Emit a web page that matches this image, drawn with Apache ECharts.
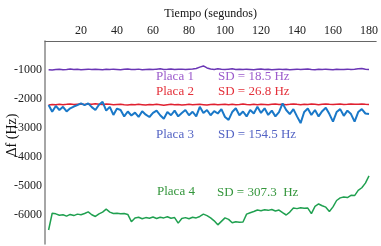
<!DOCTYPE html>
<html>
<head>
<meta charset="utf-8">
<script src="https://cdn.jsdelivr.net/npm/echarts@6/dist/echarts.min.js"></script>
<style>
  html, body { margin: 0; padding: 0; background: #fff; }
  #chart { width: 381px; height: 246px; }
</style>
</head>
<body>
<div id="chart"></div>
<script>
// tiempo (s)
const tiempo = [
  2, 4, 6, 8, 10, 12, 14, 16, 18, 20,
  22, 24, 26, 28, 30, 32, 34, 36, 38, 40,
  42, 44, 46, 48, 50, 52, 54, 56, 58, 60,
  62, 64, 66, 68, 70, 72, 74, 76, 78, 80,
  82, 84, 86, 88, 90, 92, 94, 96, 98, 100,
  102, 104, 106, 108, 110, 112, 114, 116, 118, 120,
  122, 124, 126, 128, 130, 132, 134, 136, 138, 140,
  142, 144, 146, 148, 150, 152, 154, 156, 158, 160,
  162, 164, 166, 168, 170, 172, 174, 176, 178, 180
];
// Δf (Hz)
const placa1 = [
  -990, -1000, -985, -975, -990, -980, -965, -985, -975, -990,
  -980, -970, -985, -975, -980, -990, -975, -985, -970, -980,
  -990, -975, -965, -980, -985, -970, -990, -980, -975, -985,
  -970, -960, -980, -975, -965, -985, -975, -970, -985, -975,
  -965, -950, -900, -860, -930, -965, -980, -960, -975, -985,
  -970, -960, -980, -975, -985, -970, -980, -990, -975, -965,
  -980, -975, -990, -980, -970, -985, -975, -990, -980, -970,
  -985, -975, -965, -980, -990, -975, -985, -970, -980, -990,
  -975, -985, -980, -970, -985, -975, -960, -945, -975, -985
];
const placa2 = [
  -2210, -2190, -2200, -2180, -2195, -2185, -2170, -2190, -2180, -2175,
  -2190, -2170, -2185, -2165, -2180, -2190, -2175, -2185, -2200, -2190,
  -2180, -2195, -2205, -2190, -2200, -2185, -2195, -2210, -2190, -2200,
  -2185, -2200, -2215, -2195, -2185, -2200, -2190, -2205, -2195, -2185,
  -2200, -2190, -2180, -2195, -2210, -2190, -2185, -2200, -2190, -2180,
  -2195, -2185, -2200, -2190, -2175, -2190, -2200, -2185, -2195, -2180,
  -2190, -2200, -2185, -2175, -2190, -2180, -2195, -2185, -2170, -2185,
  -2195, -2180, -2190, -2175, -2185, -2195, -2180, -2170, -2185, -2190,
  -2180, -2175, -2190, -2185, -2170, -2185, -2180, -2175, -2185, -2190
];
const placa3 = [
  -2207, -2440, -2240, -2380, -2270, -2430, -2320, -2260, -2210, -2150,
  -2210, -2150, -2280, -2380, -2200, -2100, -2400, -2270, -2550, -2330,
  -2380, -2600, -2430, -2570, -2470, -2620, -2420, -2540, -2620, -2480,
  -2400, -2560, -2680, -2450, -2560, -2400, -2600, -2480, -2380, -2560,
  -2440, -2600, -2270, -2480, -2380, -2560, -2420, -2500, -2350, -2620,
  -2720, -2450, -2320, -2560, -2430, -2600, -2380, -2500, -2270, -2480,
  -2320, -2550, -2400, -2600, -2450, -2150, -2380, -2520, -2350, -2600,
  -2830, -2450, -2330, -2550, -2380, -2600, -2420, -2300, -2520, -2780,
  -2450, -2350, -2580, -2400, -2520, -2780, -2450, -2350, -2500, -2520
];
const placa4 = [
  -6517, -5940, -5960, -6010, -5990, -6040, -5980, -6020, -5970, -5990,
  -5950, -5890, -5990, -6050, -5960, -5900, -5800, -5900, -5950, -5940,
  -5960, -5950, -5980, -6230, -6100, -6080, -6130, -6090, -6110, -6070,
  -6120, -6080, -6100, -6060, -6110, -6090, -6280, -6120, -6090, -6130,
  -6080, -6100, -6050, -5970, -6020, -6100, -6200, -6340, -6220, -6100,
  -6150, -6270, -6230, -6250, -6240, -5970, -5920, -5880, -5830, -5850,
  -5820, -5840, -5810, -5860, -5830, -5920, -6000, -5900, -5760, -5780,
  -5750, -5770, -5760, -5950, -5700, -5620, -5680, -5730, -5880, -5720,
  -5500, -5410, -5380, -5400, -5320, -5330, -5150, -5060, -4900, -4650
];
const xTicks = [20, 40, 60, 80, 100, 120, 140, 160, 180];
const yTicks = [-1000, -2000, -3000, -4000, -5000, -6000];

const serif = '"Liberation Serif", "DejaVu Serif", serif';
const pares = (vals) => vals.map((v, i) => [tiempo[i], v]);

const linea = (name, vals, color, width) => ({
  name,
  type: 'line',
  data: pares(vals),
  showSymbol: false,
  symbol: 'none',
  lineStyle: { color, width },
  itemStyle: { color },
});

const nota = (text, x, y, fill) => ({
  type: 'text',
  x,
  y,
  style: { text, fill, font: '13px ' + serif, verticalAlign: 'middle' },
});

const chart = echarts.init(document.getElementById('chart'));
chart.setOption({
  animation: false,
  grid: { left: 45, right: 1, top: 41, bottom: 2 },
  xAxis: {
    type: 'value',
    position: 'top',
    min: 0,
    max: 184,
    interval: 20,
    name: 'Tiempo (segundos)',
    nameLocation: 'middle',
    nameGap: 20,
    nameTextStyle: { fontFamily: serif, fontSize: 12, color: '#111' },
    axisLine: { onZero: false, lineStyle: { color: '#666', width: 1 } },
    axisTick: { show: false },
    splitLine: { show: false },
    axisLabel: {
      margin: 4,
      fontFamily: serif,
      fontSize: 12,
      color: '#222',
      formatter: (v) => (xTicks.includes(v) ? String(v) : ''),
    },
  },
  yAxis: {
    type: 'value',
    min: -7000,
    max: 0,
    interval: 1000,
    axisLine: { show: true, onZero: false, lineStyle: { color: '#888', width: 1.5 } },
    axisTick: { show: false },
    splitLine: { show: false },
    axisLabel: {
      margin: 3,
      fontFamily: serif,
      fontSize: 12,
      color: '#222',
      formatter: (v) => (yTicks.includes(v) ? String(v) : ''),
    },
  },
  graphic: [
    {
      type: 'text',
      x: 12,
      y: 135,
      rotation: Math.PI / 2,
      style: {
        text: 'Δf (Hz)',
        fill: '#111',
        font: '14px ' + serif,
        align: 'center',
        verticalAlign: 'middle',
      },
    },
    nota('Placa 1', 156, 77, '#9c5ccc'),
    nota('SD = 18.5 Hz', 218, 77, '#9c5ccc'),
    nota('Placa 2', 156, 92, '#e4303a'),
    nota('SD = 26.8 Hz', 218, 92, '#e4303a'),
    nota('Placa 3', 156, 135, '#5464c4'),
    nota('SD = 154.5 Hz', 218, 135, '#5464c4'),
    nota('Placa 4', 157, 192, '#34963c'),
    nota('SD = 307.3  Hz', 217, 193, '#34963c'),
  ],
  series: [
    linea('Placa 1', placa1, '#6a35b5', 1.5),
    linea('Placa 2', placa2, '#e02030', 1.5),
    linea('Placa 3', placa3, '#1a78c8', 2),
    linea('Placa 4', placa4, '#20a050', 1.5),
  ],
});
</script>
</body>
</html>
